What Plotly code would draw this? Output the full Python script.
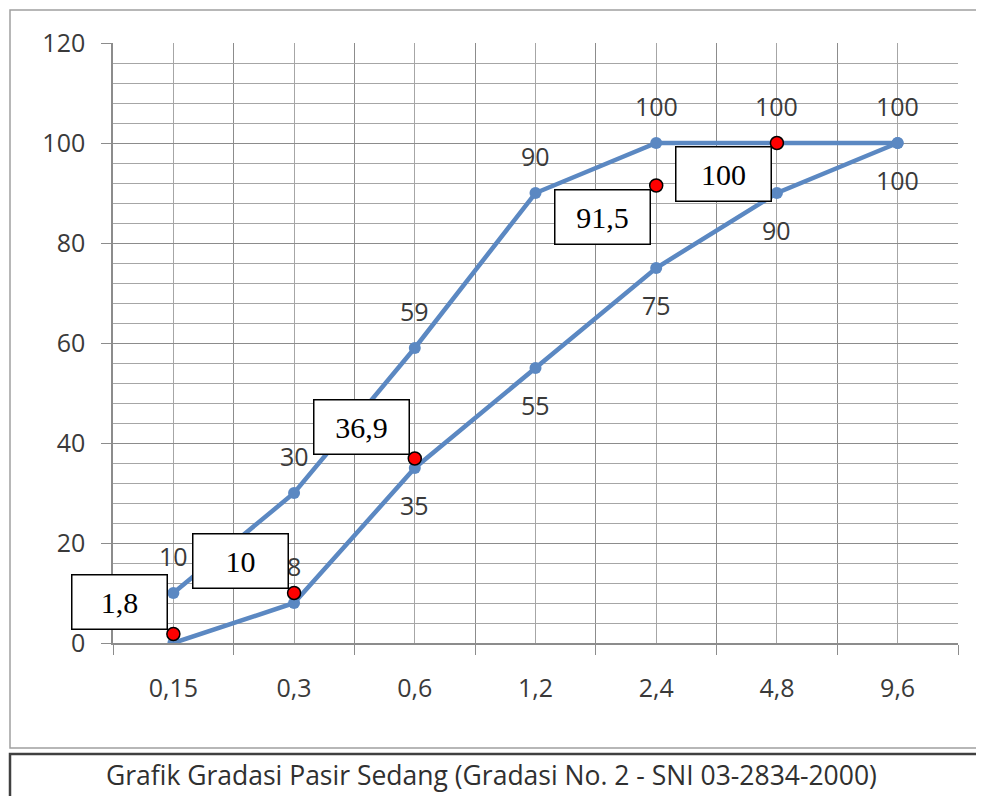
import plotly.graph_objects as go

# ---- data ----
categories = ["0,15", "0,3", "0,6", "1,2", "2,4", "4,8", "9,6"]
batas_atas = [10, 30, 59, 90, 100, 100, 100]
batas_bawah = [0, 8, 35, 55, 75, 90, 100]
bawah_label_side = ["none", "above", "below", "below", "below", "below", "below"]

uji_idx = [0, 1, 2, 4, 5]
uji_values = [1.8, 10, 36.9, 91.5, 100]
uji_box_side = ["above", "above", "above", "below", "below"]

title_text = "Grafik Gradasi Pasir Sedang (Gradasi No. 2 - SNI 03-2834-2000)"

# ---- style ----
LINE = "#5B88C2"
GRID = "#A6A6A6"
TXT = "#3A3A3A"
FONT = "Open Sans"

W, H = 984, 796
OFF = 8  # page body offset
PL, PR, PT, PB = 113, 958, 43, 643  # plot area in page pixels
L = PL - OFF
T = PT - OFF
R = W - (PR - OFF)
B = H - (PB - OFF)


def px_x(px):
    return (px - PL) / (PR - PL)


def px_y(py):
    return (PB - py) / (PB - PT)


def fmt(v):
    return ("%g" % v).replace(".", ",")


xs = list(range(len(categories)))

fig = go.Figure()
for series in (batas_atas, batas_bawah):
    fig.add_trace(go.Scatter(x=xs, y=series, mode="lines+markers",
                             line=dict(color=LINE, width=4.5),
                             marker=dict(color=LINE, size=12),
                             hoverinfo="skip", showlegend=False))

annotations = []
for x, v in zip(xs, batas_atas):
    annotations.append(dict(x=x, y=v, text=fmt(v), showarrow=False, yshift=37,
                            font=dict(family=FONT, size=25, color=TXT)))
for x, v, side in zip(xs, batas_bawah, bawah_label_side):
    if side == "none":
        continue
    annotations.append(dict(x=x, y=v, text=fmt(v), showarrow=False,
                            yshift=37 if side == "above" else -37,
                            font=dict(family=FONT, size=25, color=TXT)))

# test points (red)
fig.add_trace(go.Scatter(x=[xs[i] for i in uji_idx], y=uji_values, mode="markers",
                         marker=dict(color="#FF0000", size=13,
                                     line=dict(color="black", width=1.5)),
                         hoverinfo="skip", showlegend=False))

for i, v, side in zip(uji_idx, uji_values, uji_box_side):
    annotations.append(dict(x=xs[i], y=v, text=fmt(v), showarrow=False,
                            xanchor="right",
                            yanchor="bottom" if side == "above" else "top",
                            xshift=-5, yshift=4 if side == "above" else -3,
                            width=92, height=51, align="center", valign="middle",
                            bgcolor="white", bordercolor="black", borderwidth=1.5,
                            borderpad=1,
                            font=dict(family="Liberation Serif", size=30, color="black")))

# title
annotations.append(dict(xref="paper", yref="paper", x=px_x(491), y=px_y(775),
                        xanchor="center", yanchor="middle",
                        text=title_text, showarrow=False,
                        font=dict(family=FONT, size=26.5, color="#303030")))

shapes = [
    dict(type="rect", xref="paper", yref="paper",
         x0=px_x(10), x1=px_x(1000), y0=px_y(748), y1=px_y(10),
         line=dict(color="#A0A0A0", width=1.5), layer="below"),
    dict(type="rect", xref="paper", yref="paper",
         x0=px_x(10), x1=px_x(1000), y0=px_y(815), y1=px_y(754),
         line=dict(color="#404040", width=2.5), layer="below"),
]

fig.update_layout(
    width=W, height=H,
    margin=dict(l=L, r=R, t=T, b=B),
    paper_bgcolor="white", plot_bgcolor="white",
    annotations=annotations, shapes=shapes,
    showlegend=False,
)

fig.update_xaxes(
    range=[-0.5, len(categories) - 0.5],
    tickvals=xs, ticktext=categories, ticks="",
    showgrid=True, gridcolor=GRID, gridwidth=1,
    showline=True, linecolor="#8C8C8C", linewidth=1.5,
    zeroline=False, ticklabelstandoff=22,
    tickfont=dict(family=FONT, size=25, color=TXT),
    minor=dict(tickvals=[k - 0.5 for k in range(len(categories) + 1)],
               ticks="outside", ticklen=10, tickcolor="#8C8C8C",
               showgrid=True, gridcolor="#8C8C8C", gridwidth=1),
)
fig.update_yaxes(
    range=[0, 120], dtick=20, tick0=0,
    ticks="outside", ticklen=10, tickcolor="#8C8C8C",
    showgrid=True, gridcolor="#8C8C8C", gridwidth=1.2,
    showline=True, linecolor="#8C8C8C", linewidth=1.5,
    zeroline=False, ticklabelstandoff=11,
    tickfont=dict(family=FONT, size=25, color=TXT),
    minor=dict(dtick=4, showgrid=True, gridcolor=GRID, gridwidth=1),
)

fig.write_html("out.html")
